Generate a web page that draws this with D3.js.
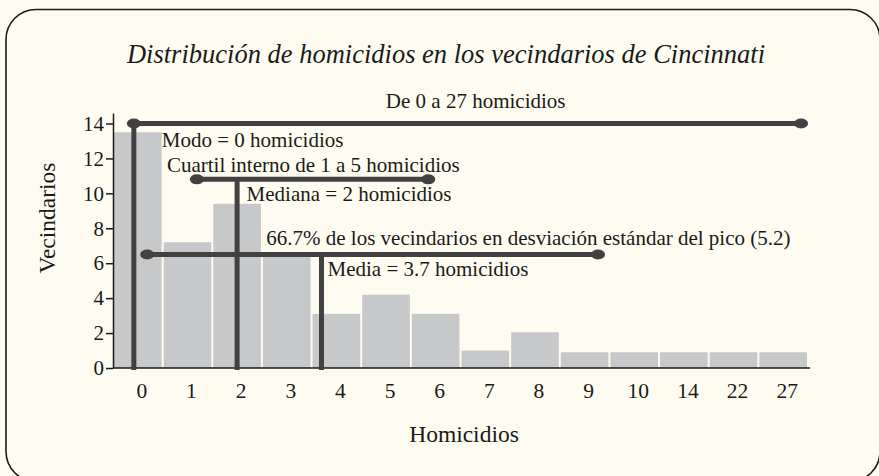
<!DOCTYPE html>
<html>
<head>
<meta charset="utf-8">
<script src="https://cdn.jsdelivr.net/npm/d3@7"></script>
<style>
body { margin: 0; background: #fefcf0; }
text { font-family: "Liberation Serif", "Times New Roman", serif; fill: #1a1a1a; }
</style>
</head>
<body>
<div id="chart"></div>
<script>
// histogram: number of neighbourhoods per homicide count
var categories = ["0", "1", "2", "3", "4", "5", "6", "7", "8", "9", "10", "14", "22", "27"];
var neighborhoods = [13.5, 7.2, 9.4, 6.5, 3.1, 4.2, 3.1, 1.0, 2.05, 0.9, 0.9, 0.9, 0.9, 0.9];
var yTicks = [0, 2, 4, 6, 8, 10, 12, 14];

// horizontal spans (x in bin-index units, level in y units)
var spanLabels = ["De 0 a 27 homicidios", "Cuartil interno de 1 a 5 homicidios",
  "66.7% de los vecindarios en desviación estándar del pico (5.2)"];
var spanFrom = [-0.08, 1.19, 0.19];
var spanTo = [13.36, 5.85, 9.27];
var spanLevel = [14, 10.8, 6.5];

// vertical markers
var markerLabels = ["Modo = 0 homicidios", "Mediana = 2 homicidios", "Media = 3.7 homicidios"];
var markerAt = [-0.08, 2, 3.7];
var markerLevel = [14, 10.8, 6.5];

var W = 879, H = 476;
var margin = {top: 113, left: 113};
var width = 695, height = 255;
var ink = "#414141";

var svg = d3.select("#chart").append("svg")
  .attr("width", W)
  .attr("height", H);

svg.append("rect")
  .attr("x", 6).attr("y", 9.5)
  .attr("width", 874).attr("height", 472)
  .attr("rx", 30)
  .attr("fill", "#fefcf0")
  .attr("stroke", "#1a1a1a")
  .attr("stroke-width", 1.6);

svg.append("text")
  .attr("x", 446).attr("y", 63)
  .attr("text-anchor", "middle")
  .style("font-style", "italic")
  .style("font-size", "26.5px")
  .text("Distribución de homicidios en los vecindarios de Cincinnati");

var g = svg.append("g")
  .attr("transform", "translate(" + margin.left + "," + margin.top + ")");

var x = d3.scaleBand()
  .domain(categories)
  .range([0, width])
  .paddingInner(0.04)
  .paddingOuter(0.02);

// same positions as the bands, but continuous for the annotations
var xi = d3.scaleLinear()
  .domain([-0.5, categories.length - 0.5])
  .range([0, width]);

var y = d3.scaleLinear()
  .domain([0, 14.6])
  .range([height, 0]);

g.selectAll(".bar")
  .data(neighborhoods)
  .enter().append("rect")
  .attr("class", "bar")
  .attr("x", function(d, i) { return x(categories[i]); })
  .attr("width", x.bandwidth())
  .attr("y", function(d) { return y(d); })
  .attr("height", function(d) { return height - y(d); })
  .attr("fill", "#c7c8ca");

// y axis
var yAxis = g.append("g")
  .call(d3.axisLeft(y).tickValues(yTicks).tickSize(7).tickPadding(2).tickSizeOuter(0));
yAxis.select(".domain").attr("stroke", "#1a1a1a").attr("stroke-width", 1.5);
yAxis.selectAll(".tick line").attr("stroke", "#1a1a1a").attr("stroke-width", 1.5);
yAxis.selectAll("text").style("font-size", "21px").style("font-family", "Liberation Serif").attr("fill", "#1a1a1a");

// x axis
var xAxis = g.append("g")
  .attr("transform", "translate(0," + height + ")")
  .call(d3.axisBottom(x).tickSize(0).tickPadding(15));
xAxis.select(".domain").attr("stroke", "#1a1a1a").attr("stroke-width", 1.5)
  .attr("d", "M0,0H" + (width + 2));
xAxis.selectAll("text").style("font-size", "21.5px").style("font-family", "Liberation Serif")
  .attr("fill", "#1a1a1a").attr("dx", 4);

// axis titles
svg.append("text")
  .attr("transform", "translate(55,218) rotate(-90)")
  .attr("text-anchor", "middle")
  .style("font-size", "23.5px")
  .text("Vecindarios");

svg.append("text")
  .attr("x", 464).attr("y", 442)
  .attr("text-anchor", "middle")
  .style("font-size", "23.5px")
  .text("Homicidios");

// vertical marker lines
var markerText = [[28, 24], [9.5, 21.7], [6, 21.7]];
markerAt.forEach(function(v, i) {
  g.append("line")
    .attr("x1", xi(v)).attr("x2", xi(v))
    .attr("y1", y(markerLevel[i])).attr("y2", y(0) + 2)
    .attr("stroke", ink).attr("stroke-width", 5);
  g.append("text")
    .attr("x", xi(v) + markerText[i][0])
    .attr("y", y(markerLevel[i]) + markerText[i][1])
    .style("font-size", "21px")
    .text(markerLabels[i]);
});

// horizontal spans with rounded ends
var spanText = [[252, -15.5], [-30, -7.3], [119, -9]];
spanFrom.forEach(function(v, i) {
  var yy = y(spanLevel[i]);
  g.append("line")
    .attr("x1", xi(v)).attr("x2", xi(spanTo[i]))
    .attr("y1", yy).attr("y2", yy)
    .attr("stroke", ink).attr("stroke-width", 5);
  [v, spanTo[i]].forEach(function(e) {
    g.append("ellipse")
      .attr("cx", xi(e)).attr("cy", yy)
      .attr("rx", 7).attr("ry", 5)
      .attr("fill", ink);
  });
  g.append("text")
    .attr("x", xi(v) + spanText[i][0])
    .attr("y", yy + spanText[i][1])
    .style("font-size", "21px")
    .text(spanLabels[i]);
});
</script>
</body>
</html>
